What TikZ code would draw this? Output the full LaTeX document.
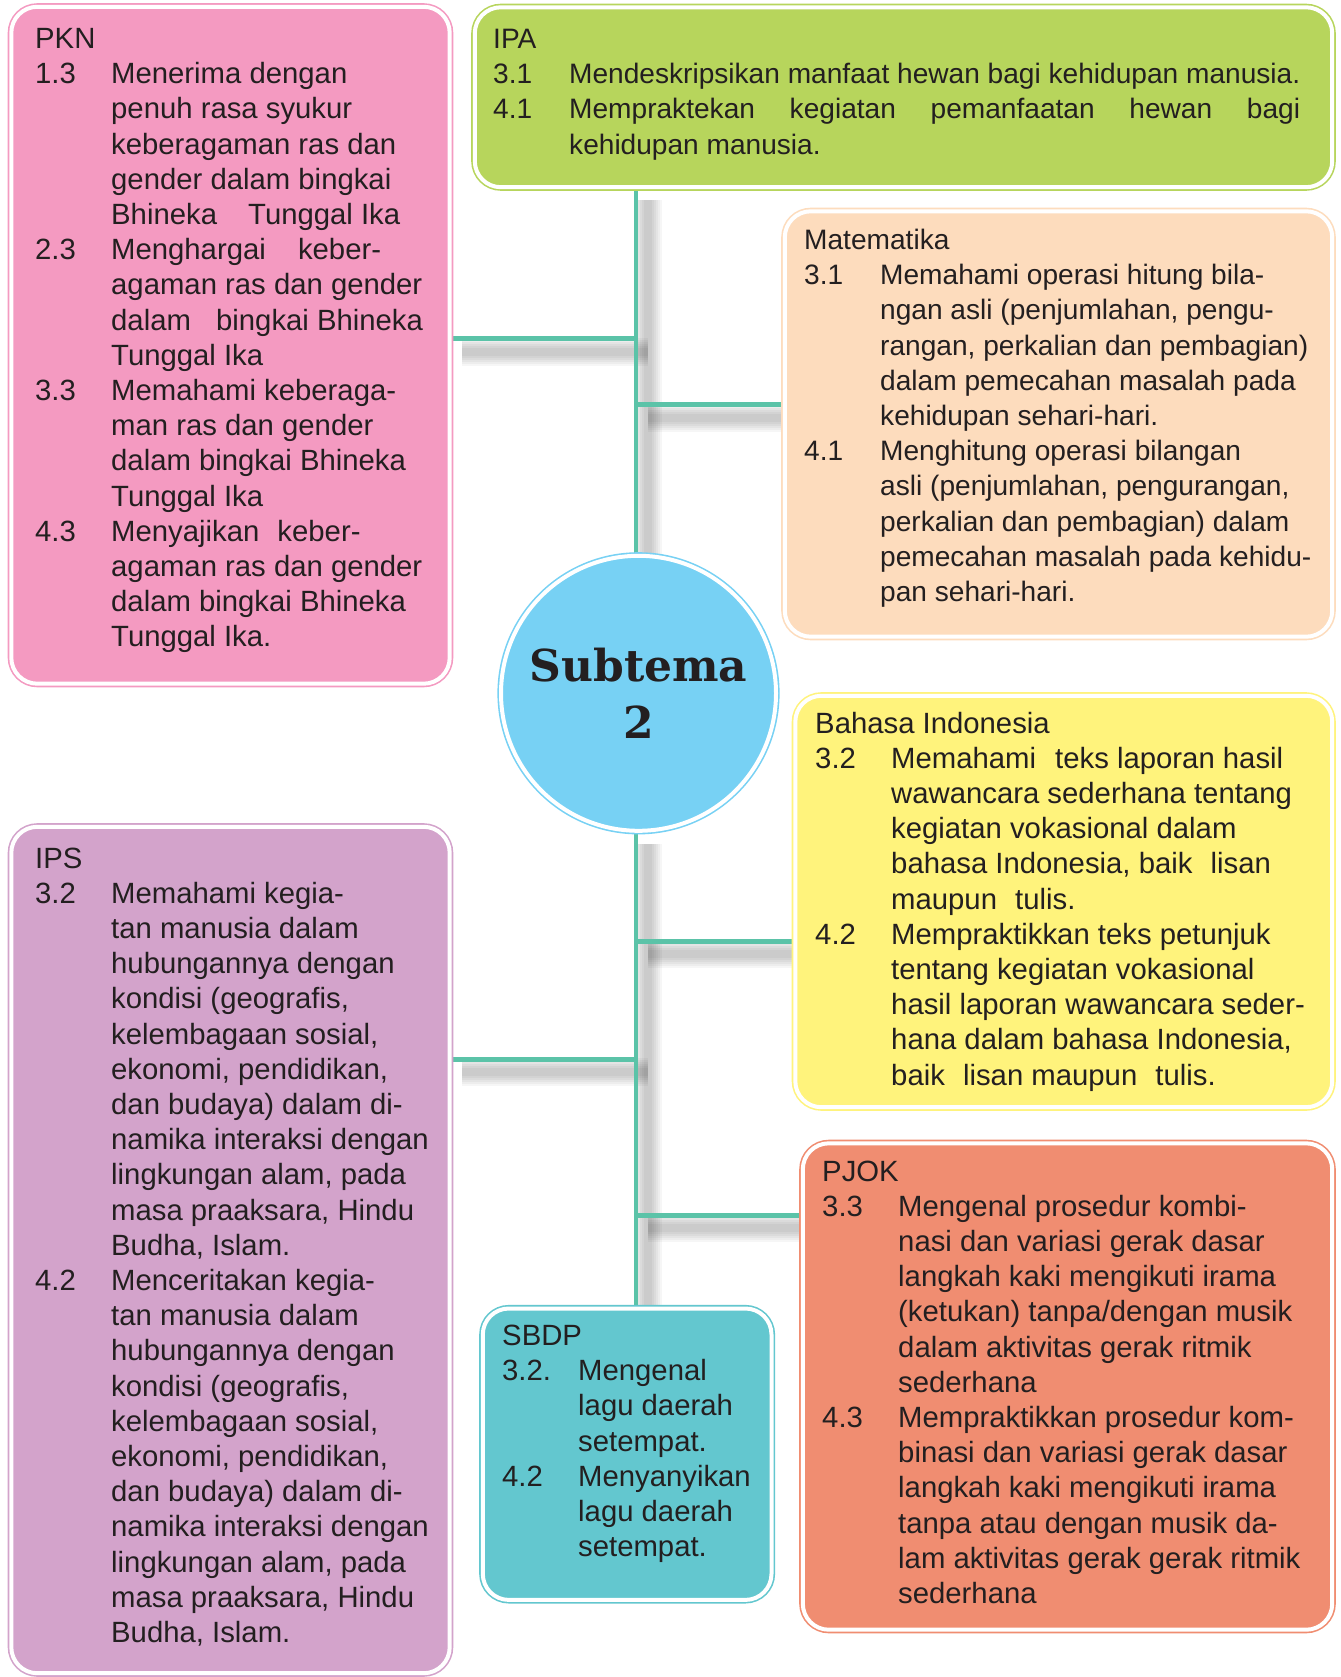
\documentclass[tikz,border=0pt]{standalone}
\usepackage{fontspec}
\setmainfont{Liberation Sans}
\newfontfamily\slabfont{DejaVu Serif}
\usetikzlibrary{backgrounds}
\definecolor{pkncol}{HTML}{F49AC1}
\definecolor{ipacol}{HTML}{B7D55C}
\definecolor{matcol}{HTML}{FDDCBD}
\definecolor{hubcol}{HTML}{77D1F4}
\definecolor{bindcol}{HTML}{FFF37C}
\definecolor{pjokcol}{HTML}{F08D71}
\definecolor{ipscol}{HTML}{D3A3CB}
\definecolor{sbdpcol}{HTML}{63C7CF}
\definecolor{linkcol}{HTML}{5BC3A8}
\definecolor{inkcol}{HTML}{231F20}
\newcommand{\kd}[1]{\makebox[76pt][l]{#1}}
\newcommand{\ind}{\hspace*{76pt}}
\newcommand{\xsp}[1]{\hspace{#1pt}}

\begin{document}
\begin{tikzpicture}[x=1pt,y=-1pt,
		box/.style={draw=#1, fill=#1, double=white, double distance=4pt, line width=1.6pt,
			rounded corners=26pt, anchor=north west, inner sep=0pt, outer sep=0pt},
		link/.style={draw=linkcol, line width=4.5pt},
		blurline/.style={draw=black, draw opacity=0.035},
		txt/.style={anchor=base west, inner sep=0pt, text=inkcol, font=\fontsize{29.3}{35.2}\selectfont},
		txtsmall/.style={txt, font=\fontsize{28.1}{35.2}\selectfont}]
		\useasboundingbox (0,0) rectangle (1340,1677);
		% boxes
		\node[box=pkncol, minimum width=438.4pt, minimum height=676.9pt] (pkn) at (11.3,6.8) {};
		\node[box=ipacol, minimum width=857.4pt, minimum height=179.9pt] (ipa) at (474.8,7.3) {};
		\node[box=matcol, minimum width=547.4pt, minimum height=425.4pt] (mat) at (784.8,211.3) {};
		\node[box=bindcol, minimum width=536.9pt, minimum height=411.4pt] (bind) at (795.3,695.8) {};
		\node[box=pjokcol, minimum width=529.4pt, minimum height=486.4pt] (pjok) at (802.8,1143.3) {};
		\node[box=ipscol, minimum width=438.4pt, minimum height=846.4pt] (ips) at (11.3,826.8) {};
		\node[box=sbdpcol, minimum width=288.7pt, minimum height=291.4pt] (sbdp) at (482.8,1308.5) {};
		\node[circle, draw=hubcol, fill=hubcol, double=white, double distance=4pt, line width=1.6pt,
			minimum size=275pt, inner sep=0pt, outer sep=0pt, align=center, text=inkcol,
			font=\fontsize{44}{57.6}\selectfont\slabfont\bfseries] (hub) at (638.5,693.3) {Subtema\\2};
		% junctions on the trunk
		\coordinate (jpkn) at (636,338.5);
		\coordinate (jmat) at (636,404.5);
		\coordinate (jbind) at (636,941.3);
		\coordinate (jips) at (636,1059.3);
		\coordinate (jpjok) at (636,1215.3);
		% texts
		\node[txt] (pkn-t) at (35,48.5) {\parbox[t]{600pt}{PKN\\
				\kd{1.3}Menerima dengan\\ \ind penuh rasa syukur\\ \ind keberagaman ras dan\\
				\ind gender dalam bingkai\\ \ind Bhineka\xsp{23} Tunggal Ika\\
				\kd{2.3}Menghargai\xsp{24} keber-\\ \ind agaman ras dan gender\\
				\ind dalam\xsp{17} bingkai Bhineka\\ \ind Tunggal Ika\\
				\kd{3.3}Memahami keberaga-\\ \ind man ras dan gender\\
				\ind dalam bingkai Bhineka\\ \ind Tunggal Ika\\
				\kd{4.3}Menyajikan\xsp{10} keber-\\ \ind agaman ras dan gender\\
				\ind dalam bingkai Bhineka\\ \ind Tunggal Ika.}};
		\node[txtsmall] (ipa-t) at (493,48.5) {\parbox[t]{900pt}{IPA\\
				\kd{3.1}Mendeskripsikan manfaat hewan bagi kehidupan manusia.\\
				\kd{4.1}\makebox[731pt][s]{Mempraktekan kegiatan pemanfaatan hewan bagi}\\
				\ind kehidupan manusia.}};
		\node[txtsmall] (mat-t) at (804,249.5) {\parbox[t]{600pt}{Matematika\\
				\kd{3.1}Memahami operasi hitung bila-\\ \ind ngan asli (penjumlahan, pengu-\\
				\ind rangan, perkalian dan pembagian)\\ \ind dalam pemecahan masalah pada\\
				\ind kehidupan sehari-hari.\\
				\kd{4.1}Menghitung operasi bilangan\\ \ind asli (penjumlahan, pengurangan,\\
				\ind perkalian dan pembagian) dalam\\ \ind pemecahan masalah pada kehidu-\\
				\ind pan sehari-hari.}};
		\node[txt] (bind-t) at (815,733) {\parbox[t]{600pt}{Bahasa Indonesia\\
				\kd{3.2}Memahami\xsp{11} teks laporan hasil\\ \ind wawancara sederhana tentang\\
				\ind kegiatan vokasional dalam\\ \ind bahasa Indonesia, baik\xsp{10} lisan\\
				\ind maupun\xsp{10} tulis.\\
				\kd{4.2}Mempraktikkan teks petunjuk\\ \ind tentang kegiatan vokasional\\
				\ind hasil laporan wawancara seder-\\ \ind hana dalam bahasa Indonesia,\\
				\ind baik\xsp{10} lisan maupun\xsp{10} tulis.}};
		\node[txt] (pjok-t) at (822,1181) {\parbox[t]{600pt}{PJOK\\
				\kd{3.3}Mengenal prosedur kombi-\\ \ind nasi dan variasi gerak dasar\\
				\ind langkah kaki mengikuti irama\\ \ind (ketukan) tanpa/dengan musik\\
				\ind dalam aktivitas gerak ritmik\\ \ind sederhana\\
				\kd{4.3}Mempraktikkan prosedur kom-\\ \ind binasi dan variasi gerak dasar\\
				\ind langkah kaki mengikuti irama\\ \ind tanpa atau dengan musik da-\\
				\ind lam aktivitas gerak gerak ritmik\\ \ind sederhana}};
		\node[txt] (ips-t) at (35,868) {\parbox[t]{600pt}{IPS\\
				\kd{3.2}Memahami kegia-\\ \ind tan manusia dalam\\ \ind hubungannya dengan\\
				\ind kondisi (geografis,\\ \ind kelembagaan sosial,\\ \ind ekonomi, pendidikan,\\
				\ind dan budaya) dalam di-\\ \ind namika interaksi dengan\\
				\ind lingkungan alam, pada\\ \ind masa praaksara, Hindu\\ \ind Budha, Islam.\\
				\kd{4.2}Menceritakan kegia-\\ \ind tan manusia dalam\\ \ind hubungannya dengan\\
				\ind kondisi (geografis,\\ \ind kelembagaan sosial,\\ \ind ekonomi, pendidikan,\\
				\ind dan budaya) dalam di-\\ \ind namika interaksi dengan\\
				\ind lingkungan alam, pada\\ \ind masa praaksara, Hindu\\ \ind Budha, Islam.}};
		\node[txt] (sbdp-t) at (502,1345.5) {\parbox[t]{400pt}{SBDP\\
				\kd{3.2.}Mengenal\\ \ind lagu daerah\\ \ind setempat.\\
				\kd{4.2}Menyanyikan\\ \ind lagu daerah\\ \ind setempat.}};
		% connectors and their shadows, under the boxes
		\begin{pgfonlayer}{background}
			\fill[white] (0,0) rectangle (1340,1677);
			\begin{scope}[transform canvas={shift={(12,13)}}]
				\foreach \w in {28,24,20,16,12,8} {
					\draw[blurline, line width=\w pt] (jpkn |- ipa.south) -- (jpkn |- hub.north);
					\draw[blurline, line width=\w pt] (jpkn |- hub.south) -- (jpkn |- sbdp.north);
					\draw[blurline, line width=\w pt] (pkn.east |- jpkn) -- (jpkn);
					\draw[blurline, line width=\w pt] (jmat) -- (mat.west |- jmat);
					\draw[blurline, line width=\w pt] (jbind) -- (bind.west |- jbind);
					\draw[blurline, line width=\w pt] (ips.east |- jips) -- (jips);
					\draw[blurline, line width=\w pt] (jpjok) -- (pjok.west |- jpjok);
				}
			\end{scope}
			\draw[link] (jpkn |- ipa.south) -- (jpkn |- hub.north);
			\draw[link] (jpkn |- hub.south) -- (jpkn |- sbdp.north);
			\draw[link] (pkn.east |- jpkn) -- (jpkn);
			\draw[link] (jmat) -- (mat.west |- jmat);
			\draw[link] (jbind) -- (bind.west |- jbind);
			\draw[link] (ips.east |- jips) -- (jips);
			\draw[link] (jpjok) -- (pjok.west |- jpjok);
		\end{pgfonlayer}
\end{tikzpicture}
\end{document}
